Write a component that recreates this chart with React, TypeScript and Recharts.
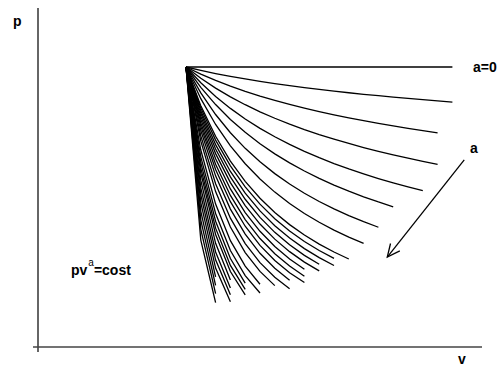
import { LineChart, Line, XAxis, YAxis, ReferenceLine } from "recharts";

// polytropic curves p·v^a = const, all starting from the state (V0, P0)
const V0 = 1;
const P0 = 1;

// sampled volumes along each curve
const V_STEPS = [1.0, 1.1, 1.2, 1.3, 1.4, 1.5, 1.6, 1.7, 1.8, 1.9, 2.0, 2.1, 2.2, 2.3, 2.4, 2.5, 2.6, 2.7, 2.8];

// exponent a of each curve and the volume where it stops
const EXPONENTS = [
  0, 0.13, 0.27, 0.43, 0.61, 0.79, 1.02, 1.26, 1.56, 1.66, 1.78, 1.9, 2.03, 2.18, 2.34, 2.5,
  2.7, 2.96, 3.23, 3.69, 4.06, 4.39, 4.7, 5.0, 5.45, 5.93, 6.4, 6.95, 7.6, 8.3, 9.1, 10.1,
];
const END_V = [
  2.8, 2.8, 2.7, 2.7, 2.6, 2.4, 2.3, 2.2, 2.1, 2.0, 2.0, 1.9, 1.9, 1.8, 1.8, 1.8,
  1.7, 1.7, 1.6, 1.5, 1.5, 1.4, 1.4, 1.4, 1.3, 1.3, 1.3, 1.3, 1.2, 1.2, 1.2, 1.2,
];

// arrow showing the direction of increasing a
const ARROW_FROM = { x: 2.88, y: 0.668 };
const ARROW_TO = { x: 2.36, y: 0.321 };

const curves = EXPONENTS.map((a, i) =>
  V_STEPS.filter((v) => v <= END_V[i] + 1e-6).map((v) => ({ v, p: P0 * Math.pow(V0 / v, a) }))
);

const FONT = "'Liberation Sans', Arial, Helvetica, sans-serif";

function Arrow(props: any) {
  const { x1, y1, x2, y2 } = props;
  const ang = Math.atan2(y1 - y2, x1 - x2);
  const len = 14;
  const spread = (25 * Math.PI) / 180;
  const h1x = x2 + len * Math.cos(ang + spread);
  const h1y = y2 + len * Math.sin(ang + spread);
  const h2x = x2 + len * Math.cos(ang - spread);
  const h2y = y2 + len * Math.sin(ang - spread);
  return (
    <g>
      <line x1={x1} y1={y1} x2={x2} y2={y2} stroke="#000" strokeWidth={1.3} />
      <polyline points={`${h1x},${h1y} ${x2},${y2} ${h2x},${h2y}`} fill="none" stroke="#000" strokeWidth={1.3} />
    </g>
  );
}

export default function App() {
  return (
    <div style={{ position: "absolute", left: 0, top: 0, background: "#fff" }}>
      <LineChart width={497} height={367} margin={{ top: 8, right: 15, bottom: 15, left: 33 }}>
        <XAxis dataKey="v" type="number" domain={[-0.0338, 3.0]} hide allowDataOverflow />
        <YAxis type="number" domain={[-0.0179, 1.2107]} hide allowDataOverflow />
        <ReferenceLine x={0} stroke="#333" strokeWidth={1.5} />
        <ReferenceLine y={0} stroke="#444" strokeWidth={1.6} />
        {curves.map((pts, i) => (
          <Line
            key={i}
            data={pts}
            dataKey="p"
            type="linear"
            stroke="#000"
            strokeWidth={1.3}
            dot={false}
            activeDot={false}
            isAnimationActive={false}
          />
        ))}
        <ReferenceLine segment={[ARROW_FROM, ARROW_TO]} shape={Arrow} />
        <text x={13} y={26} fontFamily={FONT} fontWeight="bold" fontSize={14} fill="#000">p</text>
        <text x={458} y={364} fontFamily={FONT} fontWeight="bold" fontSize={14} fill="#000">v</text>
        <text x={473} y={72} fontFamily={FONT} fontWeight="bold" fontSize={14} fill="#000">a=0</text>
        <text x={470} y={153} fontFamily={FONT} fontWeight="bold" fontSize={14} fill="#000">a</text>
        <text x={71} y={275} fontFamily={FONT} fontWeight="bold" fontSize={14} fill="#000">
          pv
          <tspan dx={1} dy={-9} fontSize={10} fontWeight="normal">a</tspan>
          <tspan dy={9}>=cost</tspan>
        </text>
      </LineChart>
    </div>
  );
}
